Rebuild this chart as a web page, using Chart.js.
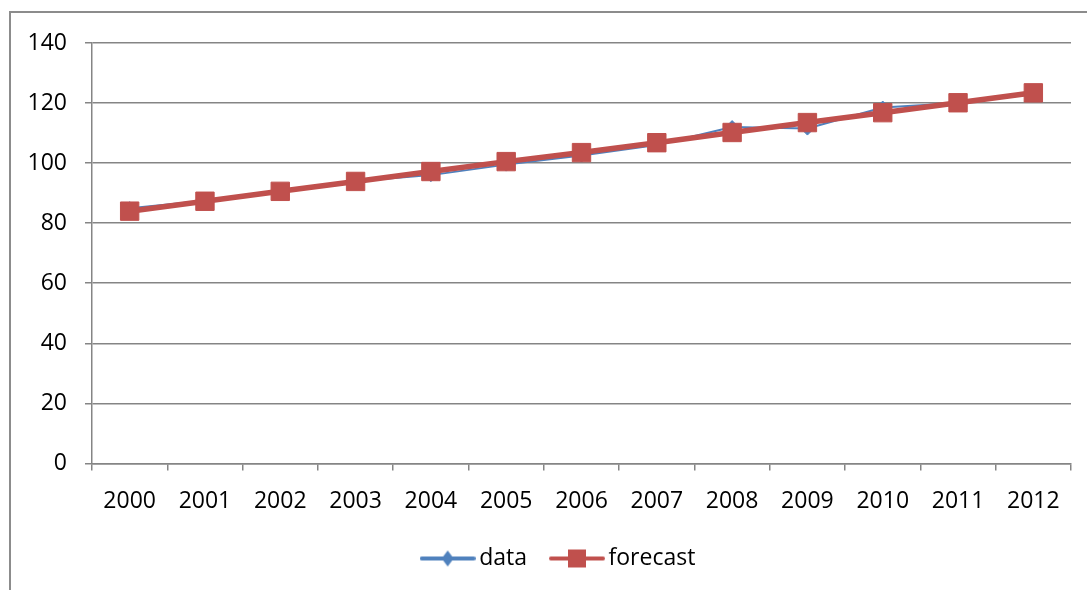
<!DOCTYPE html>
<html>
<head>
<meta charset="utf-8">
<script src="https://cdn.jsdelivr.net/npm/chart.js@4"></script>
<style>
  body { margin: 0; background: #fff; }
  #frame {
    position: absolute; left: 9px; top: 11px; width: 1100px; height: 600px;
    border-left: 2px solid #8c8c8c; border-top: 2px solid #8c8c8c;
  }
  #wrap { position: absolute; left: 0; top: 0; width: 1087px; height: 590px; }
</style>
</head>
<body>
<div id="frame"></div>
<div id="wrap"><canvas id="line-chart"></canvas></div>
<script>
var years = ['2000', '2001', '2002', '2003', '2004', '2005', '2006', '2007', '2008', '2009', '2010', '2011', '2012'];
var dataValues = [85, 87.5, 91, 94, 96, 99.5, 102.5, 106, 112, 111.5, 118.5, 120, 123];
var forecastValues = [84, 87.3, 90.6, 93.9, 97.2, 100.5, 103.5, 106.8, 110.2, 113.5, 116.8, 120.1, 123.4];
var yTicks = [0, 20, 40, 60, 80, 100, 120, 140];

var BLUE = '#4f81bd';
var RED = '#c0504d';
var FONT = "'Open Sans', 'Liberation Sans', sans-serif";

// little line + marker pictures for the legend
function legendIcon(color, lineW, marker) {
  var c = document.createElement('canvas');
  c.width = 56;
  c.height = 20;
  var g = c.getContext('2d');
  g.strokeStyle = color;
  g.lineWidth = lineW;
  g.lineCap = 'round';
  g.beginPath();
  g.moveTo(2, 10);
  g.lineTo(54, 10);
  g.stroke();
  g.fillStyle = color;
  g.beginPath();
  if (marker === 'diamond') {
    g.moveTo(28, 2); g.lineTo(34, 10); g.lineTo(28, 18); g.lineTo(22, 10);
  } else {
    g.rect(19, 1, 18, 18);
  }
  g.closePath();
  g.fill();
  return c;
}
var icons = [legendIcon(BLUE, 4, 'diamond'), legendIcon(RED, 4, 'square')];

// nudge the legend to where the original sits
var legendShift = {
  id: 'legendShift',
  afterLayout: function (chart) {
    var l = chart.legend;
    l.left += 26; l.right += 26;
    l.top -= 15; l.bottom -= 15;
  }
};

var config = {
  type: 'line',
  data: {
    labels: years,
    datasets: [
      {
        label: 'data',
        data: dataValues,
        order: 1,
        borderColor: BLUE,
        backgroundColor: BLUE,
        borderWidth: 2,
        pointStyle: 'rectRot',
        pointRadius: 6.5,
        pointBorderWidth: 1,
        tension: 0
      },
      {
        label: 'forecast',
        data: forecastValues,
        order: 0,
        borderColor: RED,
        backgroundColor: RED,
        borderWidth: 5.5,
        pointStyle: 'rect',
        pointRadius: 13,
        pointBorderWidth: 1,
        tension: 0
      }
    ]
  },
  plugins: [legendShift],
  options: {
    responsive: true,
    maintainAspectRatio: false,
    animation: false,
    layout: { padding: { left: 0, right: 16, top: 43, bottom: -5 } },
    scales: {
      x: {
        offset: true,
        grid: { offset: true, drawOnChartArea: false, tickLength: 7, color: '#858585', lineWidth: 1.5 },
        border: { color: '#858585', width: 1.5 },
        ticks: { color: '#000', font: { family: FONT, size: 23 }, padding: 17 }
      },
      y: {
        min: 0,
        max: 140,
        afterBuildTicks: function (scale) {
          scale.ticks = yTicks.map(function (v) { return { value: v }; });
        },
        afterFit: function (scale) { scale.width = 92; },
        grid: { tickLength: 7, color: '#858585', lineWidth: 1.5 },
        border: { color: '#858585', width: 1.5 },
        ticks: { color: '#000', font: { family: FONT, size: 23 }, padding: 18 }
      }
    },
    plugins: {
      tooltip: { enabled: false },
      legend: {
        position: 'bottom',
        onClick: e => e.stopPropagation(),
        labels: {
          usePointStyle: true,
          pointStyleWidth: 40,
          padding: 30,
          color: '#000',
          font: { family: FONT, size: 23 },
          sort: function (a, b) { return a.datasetIndex - b.datasetIndex; },
          generateLabels: function (chart) {
            var items = Chart.defaults.plugins.legend.labels.generateLabels(chart);
            items.forEach(function (it) { it.pointStyle = icons[it.datasetIndex]; });
            return items;
          }
        }
      }
    }
  }
};

var ctx = document.getElementById('line-chart').getContext('2d');
var myChart = new Chart(ctx, config);
</script>
</body>
</html>
